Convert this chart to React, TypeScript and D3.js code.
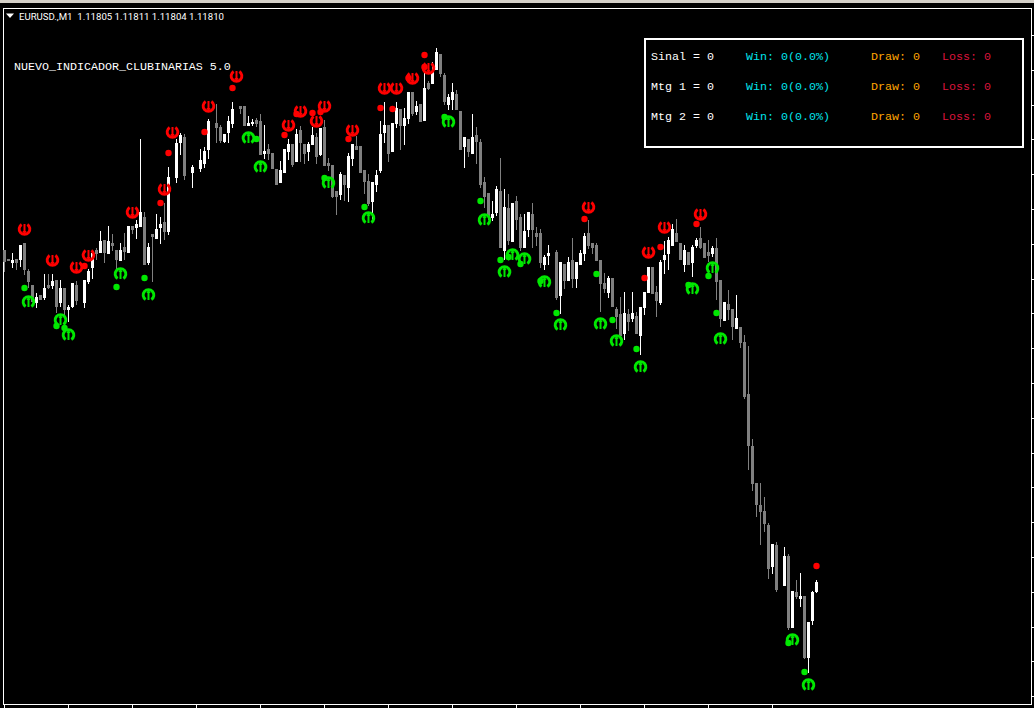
import React, { useEffect, useRef } from 'react';
import * as d3 from 'd3';

// all prices are points above 1.11000, one row = 10 one-minute bars
const opens = [
  976,971.5,969.5,971.5,971,979.5,965.5,958.5,949.5,953.5,
  952,958.5,958,961,949.5,957,946,947.5,958.5,null,
  949.5,960,967,976,974.5,981,974,979.5,976,970.5,
  977.5,974.5,988,987,987.5,992.5,969.5,984,981.5,987,
  990,985,null,1012,1029.5,1032.5,null,1014.5,null,1016.5,
  1019,1026,null,1039.5,1037.5,1030,1034.5,1039,null,1048,
  1048,1038,1039,1041,1040.5,1024,1026.5,1024.5,1016.5,1009.5,
  1014.5,1025,1029,1020,1036,1029,1025,1028.5,1032.5,1023.5,
  1037.5,1019.5,1018.5,1005.5,1003.5,1013.5,1007,1021.5,1028,1028,
  1016,1010.5,1000,1008.5,1015.5,1034.5,1038.5,1025,1039,1046.5,
  1038,1041.5,1055,1045,1049,1040.5,1059.5,1059,1066,1074,
  1063.5,1048.5,1051,1054,1045.5,1027.5,1031.5,1024,1033.5,1030,
  1010,1004.5,992,994.5,1005.5,975.5,997,980,1000.5,992.5,
  977,986,994,984.5,984.5,968.5,973,null,975,953,
  969,960.5,971,961.5,968.5,974,984.5,979.5,978.5,971,
  959.5,954.5,962,946.5,944,934,944,941.5,943,933,
  947,954.5,967.5,955,949.5,971,974,978,984.5,979.5,
  968.5,975,969.5,978,982,979.5,975,974,977,961,
  940.5,949,946.5,936.5,937.5,930,904,878,859.5,848.5,
  845.5,838.5,817.5,828.5,null,808,823,787,805,801.5,
  803,772,790.5,805,
];
const highs = [
  976,971.5,974.5,971.5,978.5,979.5,966.5,958.5,954.5,953.5,
  964,964,964,961,961,957,948.5,959.5,960.5,null,
  961,966.5,976,977,985.5,981,988,984,976,979.5,
  984.5,988,988,991,1031.5,995,979.5,984,994,992.5,
  999.5,1017.5,null,1031.5,1034.5,1034,null,1018.5,null,1026.5,
  1027.5,1041.5,null,1049,1038.5,1034,1043,1050,null,1048,
  1048,1043,1041.5,1042,1044,1038.5,1029,1024.5,1016.5,1020.5,
  1026.5,1031.5,1029,1036.5,1038,1029,1030,1037.5,1034.5,1037,
  1041,1022,1018.5,1005.5,1015,1013.5,1024.5,1029,1033,1028,
  1016,1014,1010,1016,1040.5,1050,1038.5,1039.5,1050,1046.5,
  1047,1055,1055,1050.5,1049,1066.5,1060.5,1070,1077,1074,
  1064.5,1054,1059.5,1056,1045.5,1032.5,1031.5,1044,1037.5,1031.5,
  1012.5,1004.5,1000.5,1008,1022,1006.5,1004,999.5,1003,994,
  994,995,999.5,987.5,986.5,973.5,978.5,null,976,970,
  969,972.5,982,970,976,984.5,991,979.5,979.5,971,
  964.5,963,962,947.5,952.5,955,946.5,955,945,947.5,
  955,967.5,967.5,958,971,980.5,982.5,989,991.5,979.5,
  978.5,975,978.5,982,987.5,979.5,981,978,982,961,
  950,956,946.5,953.5,937.5,933.5,928,881.5,859.5,859.5,
  852.5,839.5,829,830,null,827.5,824,805.5,811,814.5,
  803,790,805.5,811,
];
const lows = [
  965,970.5,967,966,967.5,963.5,957,950,947,951,
  951,956.5,956.5,944.5,947.5,943.5,940,947,948.5,null,
  947,959,961.5,971,974.5,969.5,974,975.5,966,970.5,
  971,974.5,984,981.5,987.5,968.5,968.5,960,981.5,979,
  981,983.5,null,1009.5,1023.5,1011,null,1007,null,1015,
  1017,1021.5,null,1029.5,1029.5,1029.5,1029.5,1037,null,1044,
  1038,1038,1038,1037.5,1023.5,1021.5,1021,1016.5,1008.5,1009.5,
  1014.5,1021,1017.5,1020,1020,1019,1020.5,1028.5,1019,1023,
  1018,1015.5,1002,993.5,1001,1000.5,1000,1018,1026,1014.5,
  1004,998,991,1005,1014.5,1029.5,1020,1025,1037,1026,
  1028.5,1039,1043,1043.5,1040,1040.5,1056,1059,1066,1062.5,
  1048.5,1046,1046,1046,1026,1017,1022.5,1024,1019,1007,
  997,991,990.5,993,977,971,978.5,980,986,975.5,
  977,982.5,977,978,967,966,968.5,null,951,944,
  956.5,960.5,957,957,968.5,970.5,976.5,974,970.5,945,
  954.5,952,947.5,936.5,933,931,935.5,940,934,923.5,
  943.5,954.5,954,942.5,948.5,964,966,978,980,971,
  965,968.5,962.5,977,976.5,972,970,972.5,951,937.5,
  940.5,941,931,936.5,927,901.5,866,855.5,842.5,828.5,
  835,811.5,814,805,null,808,786,787,801.5,797.5,
  771.5,764.5,788.5,804.5,
];
const closes = [
  970,970.5,971,969.5,978.5,966,960,950,952.5,951,
  957,957,960.5,947.5,957,946,947.5,959.5,950.5,null,
  961,965.5,974.5,974,980.5,974.5,980.5,978,971,976,
  975,988,986,989,995,968.5,977.5,982.5,986.5,989,
  985,1012.5,null,1029.5,1033.5,1013,null,1017.5,null,1021,
  1025.5,1040.5,null,1037,1030.5,1034,1040.5,1046.5,null,1046.5,
  1038,1039.5,1040,1039,1023.5,1025.5,1024,1016.5,1008.5,1016,
  1026.5,1029,1018.5,1034,1029.5,1024,1029,1033.5,1022.5,1037,
  1018,1018,1002.5,1002.5,1014,1008.5,1023,1029,1026,1014.5,
  1010,999,1010,1013.5,1034,1038.5,1024,1039.5,1047,1038,
  1042,1055,1044,1048,1040,1057,1056.5,1065.5,1075,1064,
  1050,1052.5,1055,1046,1026,1032.5,1025,1032.5,1030,1008.5,
  1002.5,992.5,994,1006.5,977,997.5,980.5,999.5,991,977,
  985.5,995,986,982.5,969.5,972.5,974.5,null,952,970,
  960.5,970,961.5,970,974.5,983,978,977,970.5,959,
  956.5,962,947.5,942.5,933,944.5,940,944.5,934,947.5,
  955,967.5,954,950.5,970,973.5,981,986.5,980,971,
  976,968.5,977.5,981,977,972,973,977,960,941.5,
  950,946,937.5,942,929.5,902.5,878,859,848.5,845,
  839,816.5,829,806,null,823,787,805.5,802.5,803,
  772,790,805,810,
];

// indicator signals: bar number + price level
const redArrowBars = [5,12,18,21,32,40,42,51,58,71,74,78,80,87,95,98,102,106,146,161,165,174];
const redArrowLevels = [986.5,971,967.5,973.5,995,1006.5,1035,1048,1063,1038.5,1045.5,1040.5,1048,1036,1057,1057,1062,1067,997.5,975,987.5,994];
const redDotBars = [20,39,41,50,57,70,73,77,79,86,94,97,101,105,105,145,160,164,173,203];
const redDotLevels = [968,999.5,1024.5,1035,1057,1033.5,1044,1044.5,1045,1031.5,1047,1046.5,1062,1073.5,1067.5,991.5,962,977.5,989,818];
const greenArrowBars = [6,14,16,29,36,61,64,81,91,111,120,125,127,130,135,139,149,153,159,172,177,179,197,201];
const greenArrowLevels = [950,941,933.5,964,953.5,1032,1017.5,1009.5,992,1040,991,965,973.5,971.5,960,938.5,939,930.5,917.5,956.5,967,931.5,781,758.5];
const greenDotBars = [5,13,15,28,35,63,80,90,110,119,124,126,129,134,138,148,152,158,171,176,178,196,200];
const greenDotLevels = [957,938,937,957.5,962,1031.5,1012,997.5,1042.5,1000.5,971,972.5,969,960.5,944.5,964,941,926.5,958.5,963,944.5,779.5,765];

const priceTicks = [1083.5,1066.1,1048.7,1031.3,1013.9,996.5,979.1,961.7,944.3,926.9,909.5,892.1,874.7,857.3,839.9,822.5,805.1,787.7,770.3,752.9];
const timeTicks = [0,16,32,48,64,80,96,112,128,144,160,176,192];

const statRows = ['Sinal = 0', 'Mtg 1 = 0', 'Mtg 2 = 0'];
const winLabel = 'Win: 0(0.0%)';
const drawLabel = 'Draw: 0';
const lossLabel = 'Loss: 0';

const WIDTH = 1034;
const HEIGHT = 708;
const BULL = '#ffffff';
const BEAR = '#808080';
const RED = '#ff0000';
const GREEN = '#00e800';
const MONO = '"Liberation Mono", monospace';

const x = d3.scaleLinear().domain([0, 203]).range([4, 816]);
const y = d3.scaleLinear().domain([1101, 751]).range([0, 700]);

const ring = d3.arc()({
  innerRadius: 3.9,
  outerRadius: 6.8,
  startAngle: Math.PI * 0.18,
  endAngle: Math.PI * 1.82,
}) as string;

// pointing down; the green one is the same glyph turned over
const Arrow = ({ bar, level, color, up }: any) => (
  <g transform={`translate(${x(bar) + 0.5},${y(level)}) rotate(${up ? 180 : 0})`} fill={color}>
    <path d={ring} />
    <rect x={-1} y={-5} width={2} height={10} />
    <path d="M-2.2,2 L2.2,2 L0,5 Z" />
  </g>
);

const App = () => {
  const rightAxis = useRef<SVGGElement>(null);
  const bottomAxis = useRef<SVGGElement>(null);

  useEffect(() => {
    const right = d3.select(rightAxis.current);
    right.call(d3.axisRight(y).tickValues(priceTicks).tickSize(3).tickFormat(() => '') as any);
    right.selectAll('line').attr('stroke', '#fff');
    right.select('.domain').remove();

    const bottom = d3.select(bottomAxis.current);
    bottom.call(d3.axisBottom(x).tickValues(timeTicks).tickSize(4).tickFormat(() => '') as any);
    bottom.selectAll('line').attr('stroke', '#fff');
    bottom.select('.domain').remove();
  }, []);

  return (
    <svg
      width={WIDTH}
      height={HEIGHT}
      style={{ position: 'fixed', left: 0, top: 0, display: 'block', background: '#000' }}
    >
      <rect x={0} y={0} width={WIDTH} height={3} fill="#d4d0c8" />
      <rect x={3.5} y={8} width={1027.5} height={696.5} fill="none" stroke="#fff" strokeWidth={1} shapeRendering="crispEdges" />
      <g ref={rightAxis} transform="translate(1031,0)" shapeRendering="crispEdges" />
      <g ref={bottomAxis} transform="translate(0,704)" shapeRendering="crispEdges" />

      <g shapeRendering="crispEdges">
        {opens.map((o, i) => {
          const c = closes[i];
          if (o === null || c === null) return null;
          const fill = c >= o ? BULL : BEAR;
          const top = y(Math.max(o, c));
          const bottom = y(Math.min(o, c));
          return (
            <g key={i} fill={fill}>
              <rect x={x(i)} y={y(highs[i] as number)} width={1} height={y(lows[i] as number) - y(highs[i] as number)} />
              <rect x={x(i) - 1} y={top} width={3} height={Math.max(bottom - top, 1)} />
            </g>
          );
        })}
      </g>

      {redDotBars.map((b, i) => (
        <circle key={i} cx={x(b) + 0.5} cy={y(redDotLevels[i])} r={3.2} fill={RED} />
      ))}
      {greenDotBars.map((b, i) => (
        <circle key={i} cx={x(b) + 0.5} cy={y(greenDotLevels[i])} r={3.2} fill={GREEN} />
      ))}
      {redArrowBars.map((b, i) => (
        <Arrow key={i} bar={b} level={redArrowLevels[i]} color={RED} />
      ))}
      {greenArrowBars.map((b, i) => (
        <Arrow key={i} bar={b} level={greenArrowLevels[i]} color={GREEN} up />
      ))}

      <path d="M6,13.5 L14,13.5 L10,18 Z" fill="#fff" />
      <text x={19} y={19.5} fill="#fff" fontFamily="Roboto, sans-serif" fontSize={9.6}>
        EURUSD.,M1{'\u00a0\u00a0'}1.11805 1.11811 1.11804 1.11810
      </text>
      <text x={14} y={70} fill="#fff" fontFamily={MONO} fontSize={11.67}>
        NUEVO_INDICADOR_CLUBINARIAS 5.0
      </text>

      <rect x={645} y={39} width={378} height={108} fill="#000" stroke="#fff" strokeWidth={2} shapeRendering="crispEdges" />
      {statRows.map((label, i) => (
        <g key={label} fontFamily={MONO} fontSize={11.67} transform={`translate(0,${60 + i * 30})`}>
          <text x={651} fill="#fff">{label}</text>
          <text x={746} fill="#00e5ee">{winLabel}</text>
          <text x={871} fill="#ffa500">{drawLabel}</text>
          <text x={942} fill="#dc143c">{lossLabel}</text>
        </g>
      ))}
    </svg>
  );
};

export default App;
